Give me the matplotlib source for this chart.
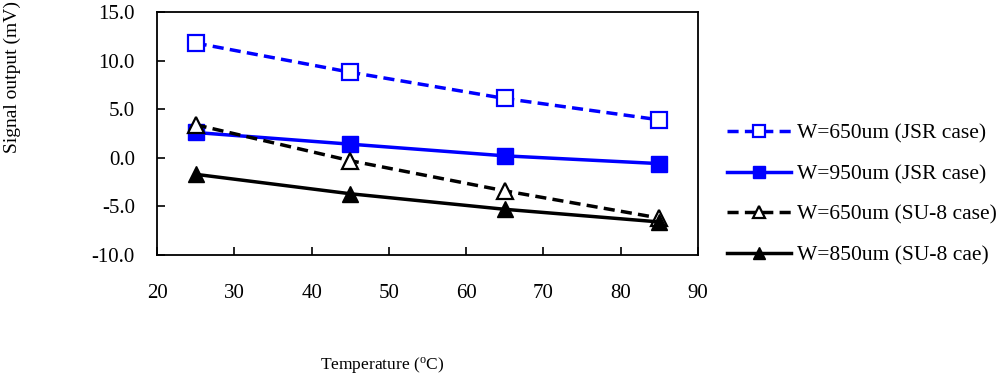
import matplotlib
matplotlib.use('Agg')
from matplotlib import pyplot as plt

plt.rcParams['font.family'] = ['Liberation Serif', 'DejaVu Serif']
plt.rcParams['mathtext.fontset'] = 'custom'
plt.rcParams['mathtext.rm'] = 'Liberation Serif'

temperature = [25, 45, 65, 85]
w650_jsr = [11.8, 8.8, 6.1, 3.9]
w950_jsr = [2.6, 1.4, 0.2, -0.6]
w650_su8 = [3.4, -0.3, -3.4, -6.2]
w850_su8 = [-1.7, -3.7, -5.3, -6.6]

labels = ['W=650um (JSR case)', 'W=950um (JSR case)',
          'W=650um (SU-8 case)', 'W=850um (SU-8 cae)']


def plot_chart():
    fig = plt.figure(figsize=(10, 3.78), dpi=100)
    ax = fig.add_axes([0.157, 0.3254, 0.541, 0.643])

    dash = (0, (3.2, 1.8))
    ax.plot(temperature, w650_jsr, color='#0000ff', lw=2.5, ls=dash, marker='s',
            ms=12, mfc='white', mec='#0000ff', mew=1.6, label=labels[0])
    ax.plot(temperature, w950_jsr, color='#0000ff', lw=2.5, marker='s',
            ms=11.5, mfc='#0000ff', mec='#0000ff', label=labels[1])
    ax.plot(temperature, w650_su8, color='black', lw=2.5, ls=dash, marker='^',
            ms=11, mfc='white', mec='black', mew=1.6, label=labels[2])
    ax.plot(temperature, w850_su8, color='black', lw=2.5, marker='^',
            ms=11, mfc='black', mec='black', label=labels[3])

    ax.set_xlim(20, 90)
    ax.set_ylim(-10, 15)
    ax.set_xticks(range(20, 91, 10))
    ax.set_yticks(range(-10, 16, 5))
    ax.set_yticklabels(['{:.1f}'.format(v) for v in range(-10, 16, 5)])
    ax.tick_params(direction='in', length=6, width=1.2, labelsize=15)
    ax.tick_params(axis='x', pad=21)
    ax.tick_params(axis='y', pad=16)
    for sp in ax.spines.values():
        sp.set_linewidth(1.3)

    fig.text(0.382, 0.035, r'Temperature ($\mathregular{^o}$C)', fontsize=12.5,
             ha='center', va='center')
    fig.text(0.012, 0.795, 'Signal output (mV)', fontsize=14, rotation=90,
             ha='center', va='center')

    fig.legend(loc='center left', bbox_to_anchor=(0.727, 0.485), frameon=False,
               fontsize=15.5, handlelength=2.95, handletextpad=0.3,
               labelspacing=0.95, borderpad=0, borderaxespad=0,
               markerscale=0.75)

    fig.savefig('out.png', dpi=100)


plot_chart()
